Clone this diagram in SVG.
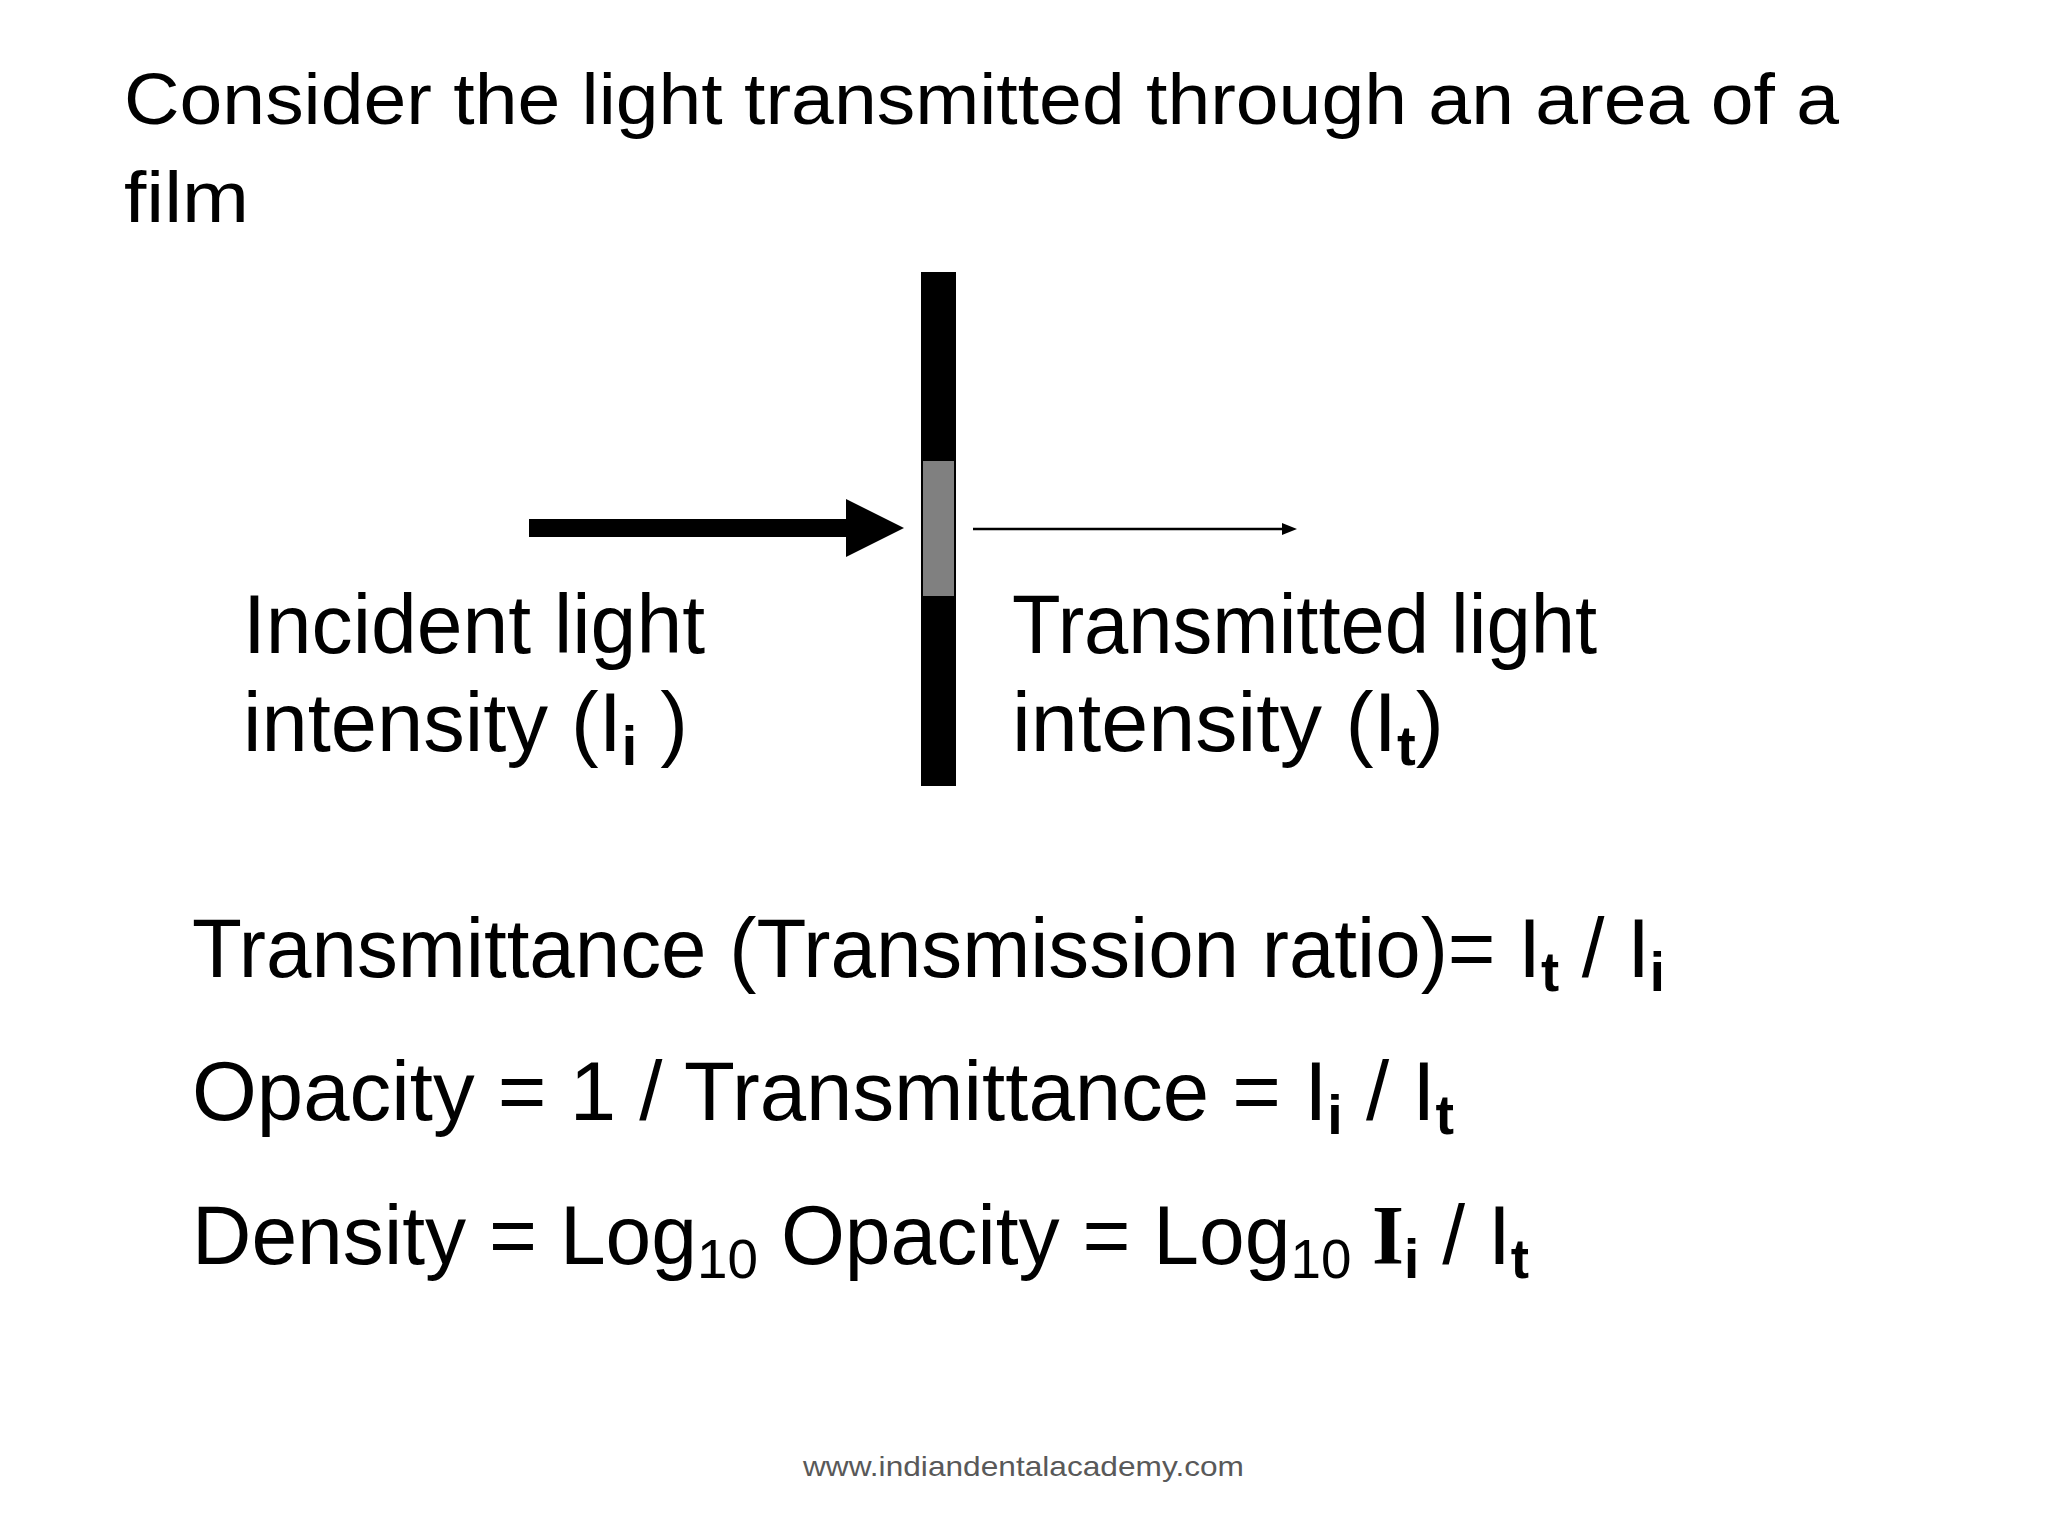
<svg xmlns="http://www.w3.org/2000/svg" width="2048" height="1536" viewBox="0 0 2048 1536">
<style>
text{font-family:"Liberation Sans",Arial,sans-serif;fill:#000}
.t{font-size:72px}
.b{font-size:84px}
.s{font-size:56px;font-weight:bold}
.n{font-size:56px}
</style>
<rect width="2048" height="1536" fill="#fff"/>
<g id="title">
<text class="t" x="124" y="124" textLength="1715" lengthAdjust="spacingAndGlyphs">Consider the light  transmitted through an area of a</text>
<text class="t" x="124" y="222" textLength="125" lengthAdjust="spacingAndGlyphs">film</text>
</g>
<g id="film">
<rect x="921" y="272" width="35" height="514" fill="#000"/>
<rect x="923" y="461" width="31" height="135" fill="#808080"/>
</g>
<g id="connectors">
<rect x="529" y="519" width="325" height="18" fill="#000"/>
<polygon points="846,499 904,528 846,557" fill="#000"/>
<line x1="973" y1="529" x2="1285" y2="529" stroke="#000" stroke-width="2.5"/>
<polygon points="1282,523 1297,529 1282,535" fill="#000"/>
</g>
<g id="incident">
<text class="b" x="243" y="653" textLength="462" lengthAdjust="spacingAndGlyphs">Incident light</text>
<text class="b" x="243" y="751" textLength="445" lengthAdjust="spacingAndGlyphs">intensity (I<tspan class="s" dy="14">i</tspan><tspan dy="-14"> )</tspan></text>
</g>
<g id="transmitted">
<text class="b" x="1012" y="653" textLength="585" lengthAdjust="spacingAndGlyphs">Transmitted light</text>
<text class="b" x="1012" y="751" textLength="432" lengthAdjust="spacingAndGlyphs">intensity (I<tspan class="s" dy="14">t</tspan><tspan dy="-14">)</tspan></text>
</g>
<g id="formulas">
<text class="b" x="192" y="977" textLength="1473" lengthAdjust="spacingAndGlyphs">Transmittance (Transmission ratio)= I<tspan class="s" dy="14">t</tspan><tspan dy="-14"> / I</tspan><tspan class="s" dy="14">i</tspan></text>
<text class="b" x="192" y="1120" textLength="1262" lengthAdjust="spacingAndGlyphs">Opacity = 1 / Transmittance = I<tspan class="s" dy="14">i</tspan><tspan dy="-14"> / I</tspan><tspan class="s" dy="14">t</tspan></text>
<text class="b" x="192" y="1264" textLength="1337" lengthAdjust="spacingAndGlyphs">Density = Log<tspan class="n" dy="14">10</tspan><tspan dy="-14"> Opacity = Log</tspan><tspan class="n" dy="14">10</tspan><tspan dy="-14" font-weight="bold" font-family="Liberation Serif"> I</tspan><tspan class="s" dy="14">i</tspan><tspan dy="-14"> / I</tspan><tspan class="s" dy="14">t</tspan></text>
</g>
<g id="footer">
<text x="803" y="1476" font-size="28" textLength="441" lengthAdjust="spacingAndGlyphs" style="fill:#595959">www.indiandentalacademy.com</text>
</g>
</svg>
